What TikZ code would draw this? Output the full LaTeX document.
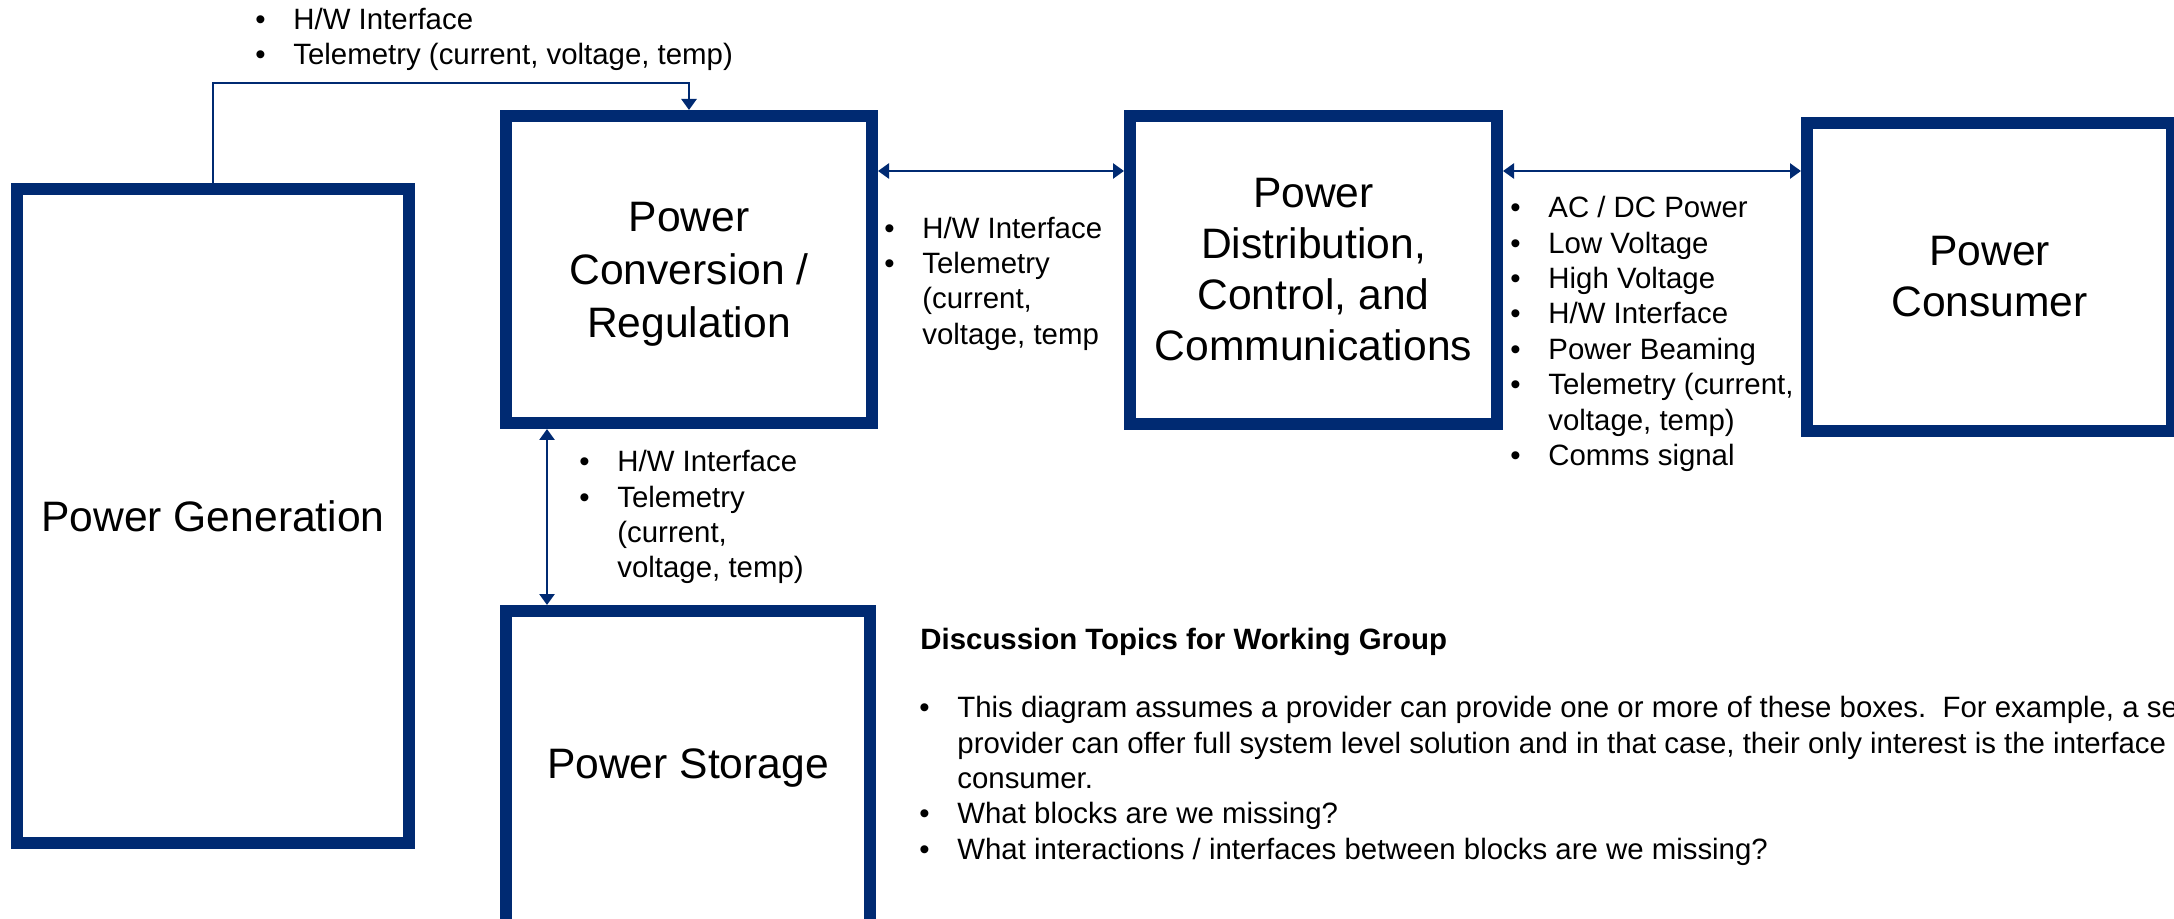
\documentclass[tikz,border=0pt]{standalone}
\usepackage{fontspec}
\setmainfont{Liberation Sans}
\usetikzlibrary{arrows.meta}
\definecolor{navy}{RGB}{0,42,114}
\newenvironment{bullets}{\begin{tabular}{@{}l@{\hspace{13.85pt}}l@{}}}{\end{tabular}}
\tikzset{
  block/.style={draw=navy,line width=6pt,align=center,inner sep=0pt,font=\fontsize{21.3}{25.5}\selectfont},
  link/.style={draw=navy,line width=1.3pt,-{Triangle[length=5.5pt,width=7.5pt]}},
  twoway/.style={link,{Triangle[length=5.5pt,width=7.5pt]}-{Triangle[length=5.5pt,width=7.5pt]}},
  notes/.style={anchor=north west,inner sep=0pt,align=left,font=\fontsize{14.7}{17.7}\selectfont}
}
\begin{document}
\begin{tikzpicture}[x=0.5pt,y=-0.5pt]
\useasboundingbox (0,0) rectangle (2174,919);
\clip (0,0) rectangle (2174,919);
% blocks
\node[block,minimum width=196pt,minimum height=327pt] (gen) at (213,516) {Power Generation};
\node[block,minimum width=183pt,minimum height=153.5pt,font=\fontsize{21.3}{26.5}\selectfont] (conv) at (689,269.5) {\rule{0pt}{19pt}Power\\Conversion /\\Regulation};
\node[block,minimum width=183.5pt,minimum height=154pt] (dist) at (1313.5,270) {Power\\Distribution,\\Control, and\\Communications};
\node[block,minimum width=182.5pt,minimum height=154pt] (cons) at (1989.5,277) {Power\\Consumer};
\node[block,minimum width=182pt,minimum height=157pt] (stor) at (688,768) {Power Storage};
% connectors
\draw[link] (gen.north) -- ++(0,-100) -| (conv.north);
\draw[twoway] (conv.east |- 0,171) -- (dist.west |- 0,171);
\draw[twoway] (dist.east |- 0,171) -- (cons.west |- 0,171);
\draw[twoway] (conv.south -| 547,0) -- (stor.north -| 547,0);
% interface lists
\node[notes] (toplist) at (255,4) {\begin{bullets}
• & H/W Interface\\
• & Telemetry (current, voltage, temp)
\end{bullets}};
\node[notes] (convlist) at (884,213) {\begin{bullets}
• & H/W Interface\\
• & Telemetry\\
  & (current,\\
  & voltage, temp
\end{bullets}};
\node[notes] (distlist) at (1510,192.5) {\begin{bullets}
• & AC / DC Power\\
• & Low Voltage\\
• & High Voltage\\
• & H/W Interface\\
• & Power Beaming\\
• & Telemetry (current,\\
  & voltage, temp)\\
• & Comms signal
\end{bullets}};
\node[notes] (storlist) at (579,446.5) {\begin{bullets}
• & H/W Interface\\
• & Telemetry\\
  & (current,\\
  & voltage, temp)
\end{bullets}};
% discussion
\node[anchor=base west,inner sep=0pt,font=\fontsize{14.7}{17.7}\selectfont\bfseries] (topichead) at (920,649) {Discussion Topics for Working Group};
\node[notes] (topics) at (919,692.5) {\begin{bullets}
• & This diagram assumes a provider can provide one or more of these boxes.\ \ For example, a service\\
  & provider can offer full system level solution and in that case, their only interest is the interface to the\\
  & consumer.\\
• & What blocks are we missing?\\
• & What interactions / interfaces between blocks are we missing?
\end{bullets}};
\end{tikzpicture}
\end{document}
